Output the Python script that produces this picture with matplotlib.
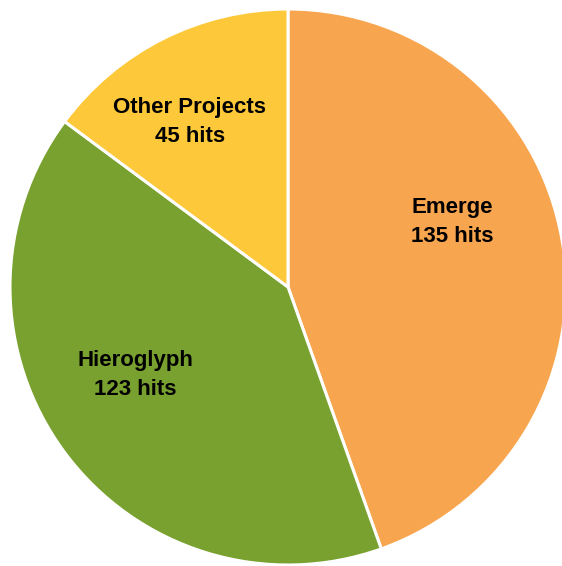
import matplotlib.pyplot as plt

# hits per project
projects = ['Emerge', 'Hieroglyph', 'Other Projects']
hits = [135, 123, 45]
colors = ['#F8A54F', '#79A12F', '#FDC83A']

# label positions (in pie-radius units)
label_pos = [(0.59, 0.234), (-0.55, -0.317), (-0.353, 0.594)]

fig = plt.figure(figsize=(5.62, 5.66), dpi=100)
ax = fig.add_axes([0, 0, 1, 1])

r_px = 278.0

wedges, _ = ax.pie(hits, colors=colors, startangle=90, counterclock=False,
                   wedgeprops=dict(edgecolor='white', linewidth=2.2))
ax.set_xlim(-288 / r_px, 274 / r_px)
ax.set_ylim(-279 / r_px, 287 / r_px)
ax.set_aspect('auto')
ax.axis('off')

for name, n, (x, y) in zip(projects, hits, label_pos):
    ax.text(x, y, f"{name}\n{n} hits", ha='center', va='center',
            fontsize=16, fontweight='bold', family='Liberation Sans',
            linespacing=1.5)

fig.savefig('out.png', dpi=100)
